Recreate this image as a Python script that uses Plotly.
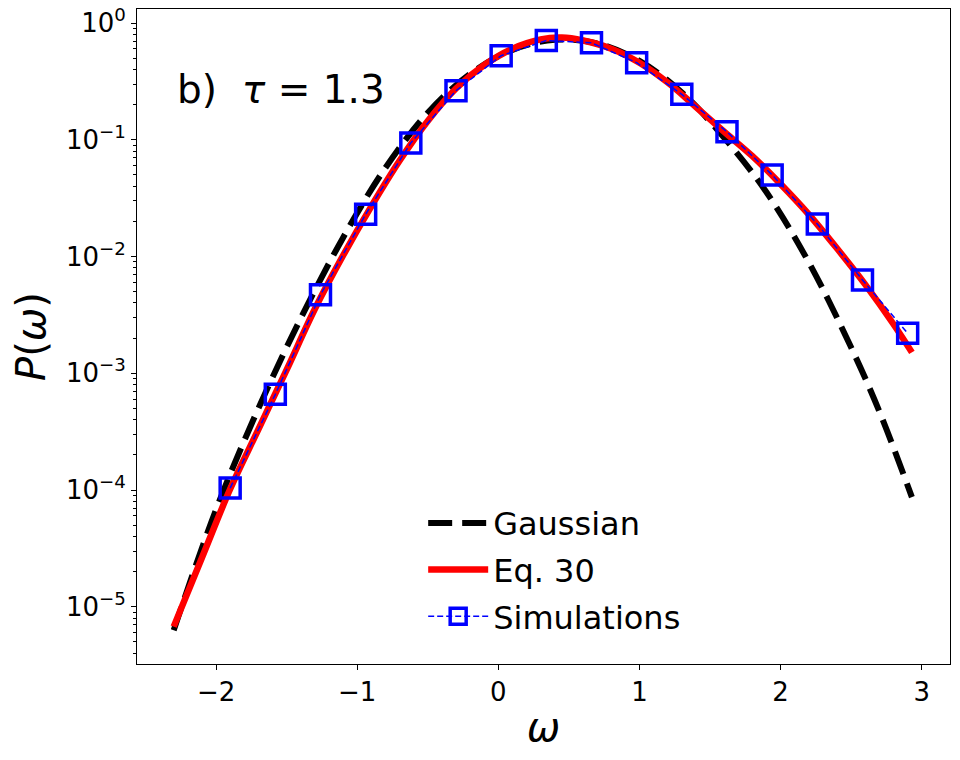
import plotly.graph_objects as go

# Gaussian curve
gauss_x = [-2.3, -2.0, -1.7, -1.4, -1.1, -0.8, -0.5, -0.2, 0.1, 0.4, 0.7, 1.0,
           1.3, 1.6, 1.9, 2.2, 2.5, 2.7, 2.93]
gauss_y = [6.3e-6, 6.8e-5, 5.0e-4, 2.95e-3, 0.0145, 0.0575, 0.170, 0.366, 0.589,
           0.719, 0.668, 0.473, 0.254, 0.104, 0.0355, 8.9e-3, 1.66e-3, 4.7e-4, 8.7e-5]

# Eq. 30
eq_x = [-2.3, -2.1, -1.9, -1.7, -1.5, -1.3, -1.1, -0.9, -0.7, -0.5, -0.3, -0.1,
        0.1, 0.3, 0.45, 0.6, 0.8, 1.0, 1.2, 1.4, 1.6, 1.8, 2.0, 2.2, 2.4, 2.6, 2.8, 2.93]
eq_y = [6.76e-6, 2.63e-5, 1.02e-4, 3.31e-4, 1.07e-3, 3.55e-3, 0.0102, 0.0269, 0.0661,
        0.145, 0.275, 0.437, 0.603, 0.724, 0.750, 0.708, 0.603, 0.457, 0.309, 0.191,
        0.117, 0.0724, 0.0417, 0.0229, 0.0117, 5.75e-3, 2.63e-3, 1.51e-3]

# simulations
sim_x = [-1.9, -1.58, -1.26, -0.94, -0.62, -0.30, 0.02, 0.34, 0.66, 0.98, 1.30,
         1.62, 1.94, 2.26, 2.58, 2.90]
sim_y = [1.04e-4, 6.6e-4, 4.7e-3, 0.023, 0.094, 0.263, 0.525, 0.708, 0.676, 0.457,
         0.245, 0.117, 0.050, 0.019, 6.3e-3, 2.2e-3]

ytick_vals = [1e-5, 1e-4, 1e-3, 1e-2, 1e-1, 1]
ytick_text = ['10<sup>−5</sup>', '10<sup>−4</sup>', '10<sup>−3</sup>',
              '10<sup>−2</sup>', '10<sup>−1</sup>', '10<sup>0</sup>']
xtick_vals = [-2, -1, 0, 1, 2, 3]

font = 'DejaVu Sans'

fig = go.Figure()
fig.add_trace(go.Scatter(x=gauss_x, y=gauss_y, mode='lines', name='Gaussian',
                         legendgroup='g1', line_shape='spline',
                         line=dict(color='black', width=6, dash='24px,10px')))
fig.add_trace(go.Scatter(x=eq_x, y=eq_y, mode='lines', name='Eq. 30',
                         legendgroup='g2', line_shape='spline',
                         line=dict(color='#ff0000', width=6.5)))
fig.add_trace(go.Scatter(x=sim_x, y=sim_y, mode='lines+markers', name='Simulations',
                         legendgroup='g3',
                         line=dict(color='#0000ff', width=1.5, dash='6px,3px'),
                         marker=dict(symbol='square-open', size=20, color='#0000ff',
                                     line=dict(width=3.5, color='#0000ff'))))

fig.add_annotation(text='b)\u00a0\u00a0<i>τ</i>\u00a0=\u00a01.3', xref='paper', yref='paper',
                   x=0.047, y=0.877, xanchor='left', yanchor='middle', showarrow=False,
                   font=dict(family=font, size=39, color='black'))

# page body has an 8px margin, so the figure is shifted by 8px
fig.update_layout(
    width=960, height=760,
    margin=dict(l=129, r=18, t=1, b=104),
    paper_bgcolor='white', plot_bgcolor='white',
    font=dict(family=font, color='black'),
    legend=dict(x=0.352, y=0.257, xanchor='left', yanchor='top',
                font=dict(family=font, size=32), bgcolor='rgba(0,0,0,0)',
                tracegroupgap=2, traceorder='grouped', itemwidth=60),
)
fig.update_xaxes(range=[-2.56, 3.2], tickvals=xtick_vals, ticks='outside', ticklen=5,
                 tickcolor='black', showline=True, linecolor='black', linewidth=1,
                 mirror=True, showgrid=False, zeroline=False, automargin=False,
                 tickfont=dict(size=26), ticklabeloverflow='allow',
                 title=dict(text='<i>ω</i>', font=dict(size=40), standoff=6))
fig.update_yaxes(type='log', range=[-5.49, 0.12], tickvals=ytick_vals, ticktext=ytick_text,
                 ticks='outside', ticklen=5, tickcolor='black', showline=True,
                 linecolor='black', linewidth=1, mirror=True, showgrid=False,
                 zeroline=False, automargin=False, tickfont=dict(size=26),
                 ticklabeloverflow='allow',
                 minor=dict(ticks='outside', ticklen=3, tickcolor='black', dtick='D1',
                            showgrid=False),
                 title=dict(text='<i>P</i>(<i>ω</i>)', font=dict(size=40), standoff=10))

fig.write_html('out.html')
